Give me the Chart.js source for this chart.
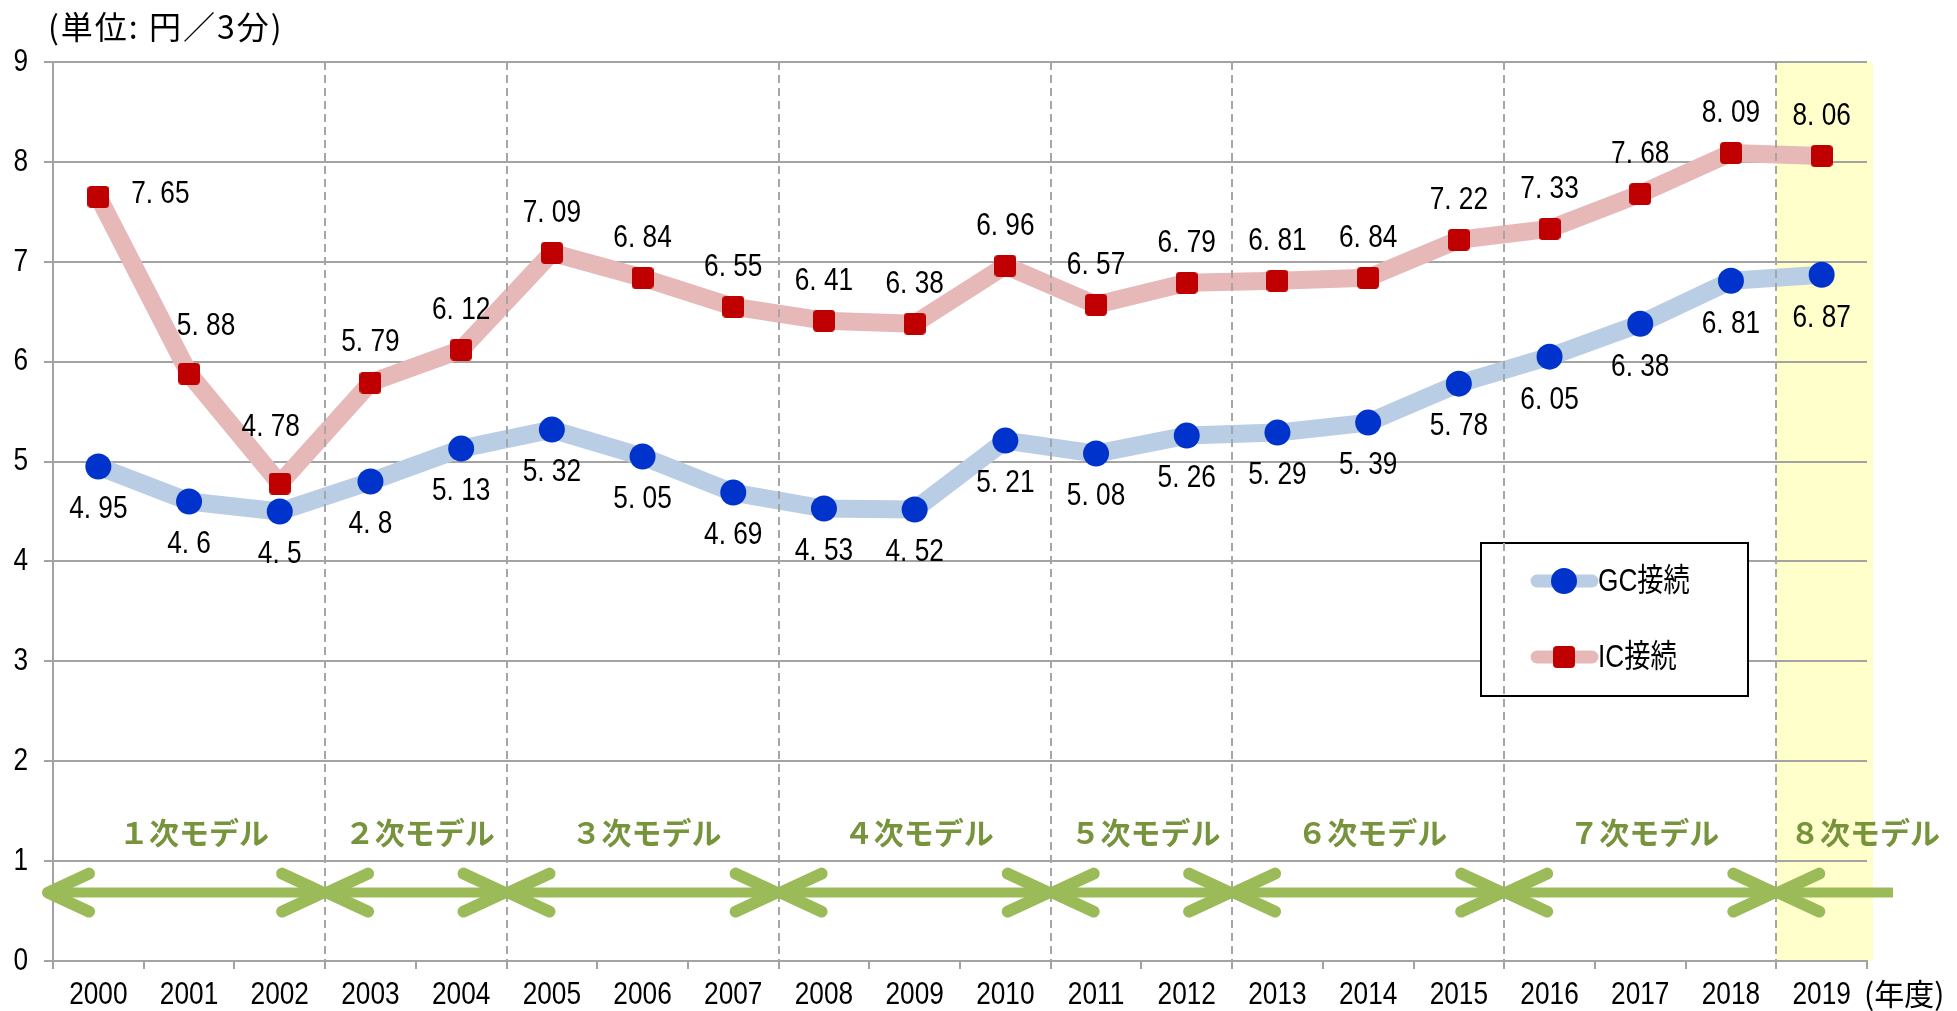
<!DOCTYPE html>
<html>
<head>
<meta charset="utf-8">
<script src="https://cdn.jsdelivr.net/npm/chart.js@4.4.0/dist/chart.umd.min.js"></script>
<style>
  body { margin: 0; background: #fff; }
  canvas { display: block; }
</style>
</head>
<body>
<canvas id="myChart" width="1957" height="1011"></canvas>
<script>
// 年度別 接続料（円／3分）
var years = ['2000', '2001', '2002', '2003', '2004', '2005', '2006', '2007', '2008', '2009',
             '2010', '2011', '2012', '2013', '2014', '2015', '2016', '2017', '2018', '2019'];
var gcValues = [4.95, 4.6, 4.5, 4.8, 5.13, 5.32, 5.05, 4.69, 4.53, 4.52,
                5.21, 5.08, 5.26, 5.29, 5.39, 5.78, 6.05, 6.38, 6.81, 6.87];
var icValues = [7.65, 5.88, 4.78, 5.79, 6.12, 7.09, 6.84, 6.55, 6.41, 6.38,
                6.96, 6.57, 6.79, 6.81, 6.84, 7.22, 7.33, 7.68, 8.09, 8.06];
var yTicks = [0, 1, 2, 3, 4, 5, 6, 7, 8, 9];

// LRIC models: name and index of first year
var modelNames = ['１次モデル', '２次モデル', '３次モデル', '４次モデル', '５次モデル', '６次モデル', '７次モデル', '８次モデル'];
var modelStart = [0, 3, 5, 8, 11, 13, 16, 19];

// where the value labels go (style only)
var gcLabelPos = ['below', 'below', 'below', 'below', 'below', 'below', 'below', 'below', 'below', 'below',
                  'below', 'below', 'below', 'below', 'below', 'below', 'below', 'below', 'below', 'below'];
var icLabelPos = ['right', 'upright', 'upleft', 'above', 'above', 'above', 'above', 'above', 'above', 'above',
                  'above', 'above', 'above', 'above', 'above', 'above', 'above', 'above', 'above', 'above'];
var labelOffset = {
  above: [0, -40], below: [0, 43], right: [62, -3], upright: [17, -47], upleft: [-9, -56]
};

var gray = '#a3a3a3';
var narrowFont = '"Liberation Sans", "Noto Sans CJK JP", sans-serif';
var jpFont = '"Noto Sans CJK JP", sans-serif';
var squeeze = 0.82;
var arrowLevel = 0.685;
var modelLabelLevel = 1.29;

// red rounded square marker
var redSquare = document.createElement('canvas');
redSquare.width = 22;
redSquare.height = 22;
(function() {
  var c = redSquare.getContext('2d');
  var r = 4, s = 22;
  c.fillStyle = '#c00000';
  c.beginPath();
  c.moveTo(r, 0);
  c.lineTo(s - r, 0); c.arcTo(s, 0, s, r, r);
  c.lineTo(s, s - r); c.arcTo(s, s, s - r, s, r);
  c.lineTo(r, s); c.arcTo(0, s, 0, s - r, r);
  c.lineTo(0, r); c.arcTo(0, 0, r, 0, r);
  c.closePath();
  c.fill();
})();

function fmt(v) {
  return v.toString().replace('.', '. ');
}

// tall narrow text like the original office font
function narrowText(ctx, text, x, y, align) {
  ctx.save();
  ctx.fillStyle = '#000';
  ctx.font = '32px ' + narrowFont;
  ctx.textAlign = align;
  ctx.textBaseline = 'middle';
  ctx.scale(squeeze, 1);
  ctx.fillText(text, x / squeeze, y);
  ctx.restore();
}

function boundaryX(xs, i) {
  var half = (xs.getPixelForValue(1) - xs.getPixelForValue(0)) / 2;
  return xs.getPixelForValue(i) - half;
}

var legendBox = { x: 1481, y: 543, w: 267, h: 153 };

var extras = {
  id: 'extras',
  beforeDraw: function(chart) {
    var ctx = chart.ctx, xs = chart.scales.x, a = chart.chartArea;
    // highlight of latest year
    var x0 = boundaryX(xs, years.length - 1);
    ctx.save();
    ctx.fillStyle = '#ffffcc';
    ctx.fillRect(x0, a.top, a.right + 6 - x0, a.bottom - a.top);
    ctx.restore();
  },
  beforeDatasetsDraw: function(chart) {
    var ctx = chart.ctx;
    ctx.save();
    ctx.fillStyle = '#fff';
    ctx.fillRect(legendBox.x, legendBox.y, legendBox.w, legendBox.h);
    ctx.strokeStyle = '#000';
    ctx.lineWidth = 2;
    ctx.strokeRect(legendBox.x, legendBox.y, legendBox.w, legendBox.h);
    ctx.restore();
  },
  afterDatasetsDraw: function(chart) {
    var ctx = chart.ctx, xs = chart.scales.x, ys = chart.scales.y, a = chart.chartArea;
    ctx.save();

    // model boundaries
    ctx.strokeStyle = '#a6a6a6';
    ctx.lineWidth = 2;
    ctx.setLineDash([8, 5]);
    for (var k = 1; k < modelStart.length; k++) {
      var bx = Math.round(boundaryX(xs, modelStart[k]));
      ctx.beginPath();
      ctx.moveTo(bx, a.top);
      ctx.lineTo(bx, a.bottom);
      ctx.stroke();
    }
    ctx.setLineDash([]);

    // arrows and model names
    var ay = ys.getPixelForValue(arrowLevel);
    var ly = ys.getPixelForValue(modelLabelLevel);
    for (var k = 0; k < modelStart.length; k++) {
      var last = k === modelStart.length - 1;
      var x1 = k === 0 ? a.left - 5 : boundaryX(xs, modelStart[k]) + 2;
      var x2 = last ? a.right + 26 : boundaryX(xs, modelStart[k + 1]) - 2;
      ctx.strokeStyle = '#9bbb59';
      ctx.lineCap = 'butt';
      ctx.lineWidth = 10;
      ctx.beginPath();
      ctx.moveTo(x1 + 4, ay);
      ctx.lineTo(last ? x2 : x2 - 4, ay);
      ctx.stroke();
      ctx.lineCap = 'round';
      ctx.lineJoin = 'round';
      ctx.lineWidth = 12;
      ctx.beginPath();
      ctx.moveTo(x1 + 41, ay - 19);
      ctx.lineTo(x1, ay);
      ctx.lineTo(x1 + 41, ay + 19);
      ctx.stroke();
      if (!last) {
        ctx.beginPath();
        ctx.moveTo(x2 - 41, ay - 19);
        ctx.lineTo(x2, ay);
        ctx.lineTo(x2 - 41, ay + 19);
        ctx.stroke();
      }
      var lx = last ? a.right - 2 : (x1 + x2) / 2 + 4;
      if (k === 0) lx = (a.left + x2) / 2 + 6;
      ctx.fillStyle = '#77933c';
      ctx.font = '700 30px ' + jpFont;
      ctx.textAlign = 'center';
      ctx.textBaseline = 'middle';
      ctx.fillText(modelNames[k], lx, ly);
    }

    // value labels
    var posLists = [gcLabelPos, icLabelPos];
    chart.data.datasets.forEach(function(ds, d) {
      var meta = chart.getDatasetMeta(d);
      meta.data.forEach(function(pt, i) {
        var off = labelOffset[posLists[d][i]];
        narrowText(ctx, fmt(ds.data[i]), pt.x + off[0], pt.y + off[1], 'center');
      });
    });

    // tick labels, placed from the scales' own ticks
    xs.ticks.forEach(function(t, i) {
      narrowText(ctx, xs.getLabelForValue(t.value), xs.getPixelForTick(i), 995, 'center');
    });
    ys.ticks.forEach(function(t) {
      narrowText(ctx, String(t.value), 28, ys.getPixelForValue(t.value), 'right');
    });

    // legend entries
    chart.data.datasets.forEach(function(ds, d) {
      var cy = legendBox.y + 38 + d * 76;
      ctx.strokeStyle = ds.borderColor;
      ctx.lineWidth = 13;
      ctx.lineCap = 'round';
      ctx.beginPath();
      ctx.moveTo(1537, cy);
      ctx.lineTo(1592, cy);
      ctx.stroke();
      if (ds.pointStyle === 'circle') {
        ctx.fillStyle = ds.pointBackgroundColor;
        ctx.beginPath();
        ctx.arc(1564, cy, 13, 0, Math.PI * 2);
        ctx.fill();
      } else {
        ctx.drawImage(redSquare, 1564 - 11, cy - 11);
      }
      narrowText(ctx, ds.label, 1598, cy + 1, 'left');
    });

    // unit texts
    ctx.fillStyle = '#000';
    ctx.font = '32px ' + jpFont;
    ctx.textAlign = 'left';
    ctx.textBaseline = 'middle';
    ctx.letterSpacing = '2px';
    ctx.fillText('(単位: 円／3分)', 48, 27);
    ctx.letterSpacing = '0px';
    ctx.font = '30px ' + jpFont;
    ctx.fillText('(年度)', 1864, 994);

    ctx.restore();
  }
};

var ctx = document.getElementById('myChart').getContext('2d');
var myChart = new Chart(ctx, {
  type: 'line',
  data: {
    labels: years,
    datasets: [{
      label: 'GC接続',
      data: gcValues,
      borderColor: '#b9cde5',
      borderWidth: 18,
      borderJoinStyle: 'round',
      pointStyle: 'circle',
      pointRadius: 13,
      pointBackgroundColor: '#0033cc',
      pointBorderWidth: 0,
      tension: 0
    }, {
      label: 'IC接続',
      data: icValues,
      borderColor: '#e6b9b8',
      borderWidth: 18,
      borderJoinStyle: 'round',
      pointStyle: redSquare,
      pointRadius: 11,
      pointBackgroundColor: '#c00000',
      pointBorderWidth: 0,
      tension: 0
    }]
  },
  options: {
    responsive: false,
    animation: false,
    devicePixelRatio: 1,
    layout: { padding: { top: 62, right: 90, bottom: 0, left: 0 } },
    plugins: { legend: { display: false }, tooltip: { enabled: false } },
    scales: {
      x: {
        type: 'category',
        offset: true,
        grid: { offset: true, drawOnChartArea: false, drawTicks: true, tickLength: 8, color: gray, lineWidth: 2 },
        border: { color: gray, width: 2 },
        ticks: { display: false, autoSkip: false, maxRotation: 0 },
        afterFit: function(s) { s.height = 50; }
      },
      y: {
        min: 0,
        max: 9,
        afterBuildTicks: function(s) { s.ticks = yTicks.map(function(v) { return { value: v }; }); },
        grid: { color: gray, lineWidth: 2, tickLength: 9 },
        border: { color: gray, width: 2 },
        ticks: { display: false },
        afterFit: function(s) { s.width = 53; }
      }
    }
  },
  plugins: [extras]
});
</script>
</body>
</html>
